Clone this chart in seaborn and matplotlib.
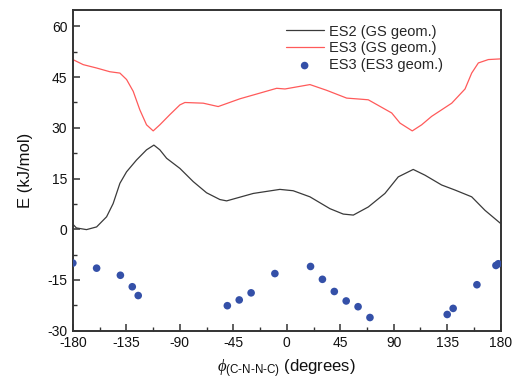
import matplotlib
matplotlib.use("Agg")
import matplotlib.pyplot as plt
import seaborn as sns
from matplotlib.ticker import MultipleLocator

# ES2 energy along the torsion scan (ground-state geometry)
es2_phi = [-180, -177, -168.5, -160, -151.6, -146.1, -140.4, -134.8, -126.4, -118, -111.8,
           -106.8, -101.1, -89.9, -78.7, -67.5, -56.3, -50.6, -28.2, -5.8, 5.4, 19.5, 36.3,
           47.5, 56, 68.6, 82.6, 93.8, 106.4, 116.3, 130.3, 141.6, 155.6, 166.8, 180]
es2_e = [1.5, 0.4, -0.1, 0.7, 3.7, 7.6, 13.6, 17.0, 20.5, 23.5, 24.9,
         23.5, 21.0, 18.0, 14.1, 10.8, 8.8, 8.4, 10.6, 11.8, 11.4, 9.6, 6.1,
         4.5, 4.2, 6.6, 10.6, 15.5, 17.7, 16.0, 13.1, 11.6, 9.6, 5.6, 1.7]

# ES3 energy along the torsion scan (ground-state geometry)
es3_phi = [-180, -171.3, -160, -148.9, -140.4, -134.8, -129.2, -123.6, -118, -112.4,
           -106.8, -98.4, -89.9, -85.7, -70.3, -57.7, -39.4, -25.4, -8.5, -1.5, 19.5,
           33.6, 50.4, 61.6, 68.6, 88.3, 95.3, 105.6, 113.5, 121.9, 138.8, 150, 155.6,
           161.2, 169.6, 180]
es3_e = [50.2, 48.7, 47.7, 46.6, 46.2, 44.3, 40.8, 35.3, 30.9, 29.1,
         30.9, 33.9, 36.8, 37.5, 37.3, 36.3, 38.6, 40.0, 41.7, 41.5, 42.8,
         41.1, 38.8, 38.5, 38.3, 34.4, 31.4, 29.1, 30.9, 33.4, 37.3, 41.5, 46.2,
         49.2, 50.2, 50.4]

# ES3 energies at relaxed ES3 geometries
opt_phi = [-180, -160, -140, -130, -125, -50, -40, -30, -10, 20, 30, 40, 50, 60, 70,
           135, 140, 160, 176, 178]
opt_e = [-10.0, -11.5, -13.6, -17.0, -19.6, -22.6, -20.9, -18.8, -13.1, -11.0, -14.8,
         -18.4, -21.2, -22.9, -26.1, -25.2, -23.4, -16.4, -10.7, -10.2]

sns.set_theme(style="white")
plt.rcParams["font.family"] = ["Liberation Sans", "DejaVu Sans"]
plt.rcParams["axes.unicode_minus"] = False
plt.rcParams["mathtext.fontset"] = "custom"
plt.rcParams["mathtext.rm"] = "Liberation Sans"
plt.rcParams["mathtext.it"] = "Liberation Serif:italic"

fig = plt.figure(figsize=(5.13, 3.81), dpi=100)
ax = fig.add_axes([0.142, 0.132, 0.834, 0.843])

sns.lineplot(x=es2_phi, y=es2_e, ax=ax, color="#3a3a3a", lw=0.9, sort=False,
             label="ES2 (GS geom.)")
sns.lineplot(x=es3_phi, y=es3_e, ax=ax, color="#ff5a5a", lw=0.9, sort=False,
             label="ES3 (GS geom.)")
sns.scatterplot(x=opt_phi, y=opt_e, ax=ax, color="#3450a8", s=30, edgecolor="none",
                label="ES3 (ES3 geom.)", zorder=3)

ax.set_xlim(-180, 180)
ax.set_ylim(-30, 65)
ax.xaxis.set_major_locator(MultipleLocator(45))
ax.xaxis.set_minor_locator(MultipleLocator(22.5))
ax.yaxis.set_major_locator(MultipleLocator(15))
ax.yaxis.set_minor_locator(MultipleLocator(7.5))
ax.tick_params(which="major", direction="in", length=5, width=1.1, color="#333333",
               labelsize=10, labelcolor="#111111", pad=4, bottom=True, left=True)
ax.tick_params(which="minor", direction="in", length=3, width=1.0, color="#333333",
               bottom=True, left=True)
for s in ax.spines.values():
    s.set_color("#333333")
    s.set_linewidth(1.4)

ax.set_ylabel("E (kJ/mol)", fontsize=12, color="#111111", labelpad=10)
ax.set_xlabel(r"$\it{\phi}_{\mathrm{(C\text{-}N\text{-}N\text{-}C)}}$ (degrees)",
              fontsize=12, color="#111111", labelpad=5)

leg = ax.legend(loc="upper right", frameon=False, fontsize=10.5, handlelength=2.6,
                handletextpad=0.4, labelspacing=0.2, borderaxespad=0.3,
                bbox_to_anchor=(0.89, 0.985))

fig.savefig("out.png", dpi=100)
